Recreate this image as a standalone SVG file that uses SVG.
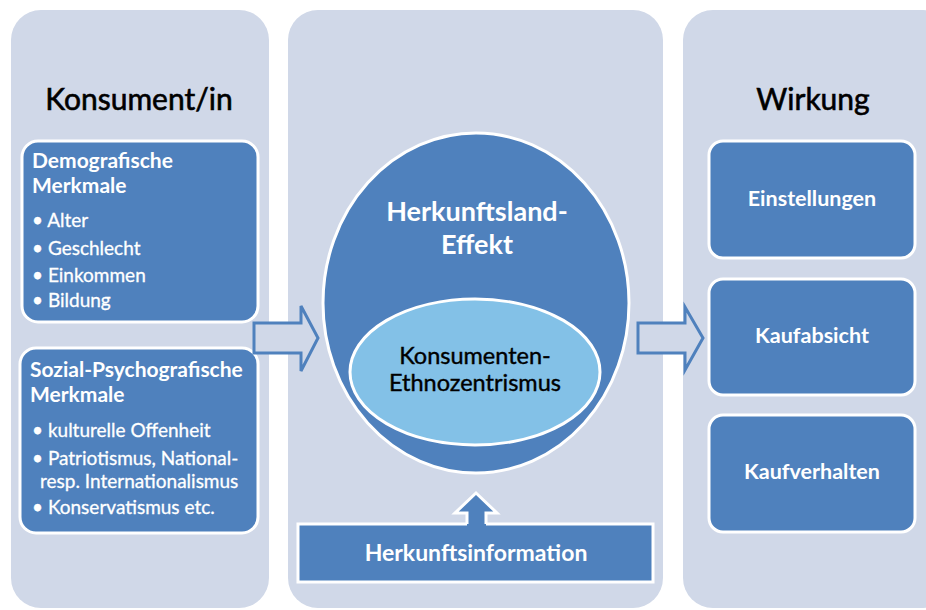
<svg xmlns="http://www.w3.org/2000/svg" width="926" height="610" viewBox="0 0 926 610">
  <style>
    .panel { fill: #D0D8E8; }
    .box { fill: #4F81BD; stroke: #FFFFFF; stroke-width: 3; }
    .title { font-family: Lato, "Open Sans", sans-serif; font-size: 30px; fill: #000000; stroke: #000000; stroke-width: 0.6; text-anchor: middle; }
    .head { font-family: Lato, "Open Sans", sans-serif; font-size: 21px; font-weight: bold; fill: #FFFFFF; }
    .item { font-family: Lato, "Open Sans", sans-serif; font-size: 19px; fill: #FFFFFF; stroke: #FFFFFF; stroke-width: 0.3; }
    .label { font-family: Lato, "Open Sans", sans-serif; font-size: 21.5px; font-weight: bold; fill: #FFFFFF; text-anchor: middle; }
    .big { font-family: Lato, "Open Sans", sans-serif; font-size: 27px; font-weight: bold; fill: #FFFFFF; text-anchor: middle; }
    .inner { font-family: Lato, "Open Sans", sans-serif; font-size: 23.5px; fill: #000000; stroke: #000000; stroke-width: 0.4; text-anchor: middle; }
    .hollow { fill: #D0D8E8; stroke: #4F81BD; stroke-width: 3; stroke-linejoin: miter; }
    .arrow-fill { fill: #4F81BD; }
    .arrow-edge { fill: none; stroke: #FFFFFF; stroke-width: 3; stroke-linejoin: miter; }
  </style>
  <rect width="926" height="610" fill="#FFFFFF"/>

  <!-- column backgrounds -->
  <g id="panels">
    <rect class="panel" x="11" y="10" width="258" height="598" rx="30"/>
    <rect class="panel" x="288" y="10" width="375" height="598" rx="30"/>
    <rect class="panel" x="683" y="10" width="270" height="598" rx="30"/>
  </g>

  <!-- left column: consumer -->
  <g id="konsument-title">
    <text class="title" x="139" y="110">Konsument/in</text>
  </g>
  <g id="demografisch">
    <rect class="box" x="22" y="141" width="236" height="181" rx="16"/>
    <text class="head" x="32" y="168">Demografische</text>
    <text class="head" x="32" y="193">Merkmale</text>
    <text class="item" x="32" y="227">• Alter</text>
    <text class="item" x="32" y="255">• Geschlecht</text>
    <text class="item" x="32" y="282">• Einkommen</text>
    <text class="item" x="32" y="307">• Bildung</text>
  </g>
  <g id="sozialpsychografisch">
    <rect class="box" x="20" y="348" width="238" height="185" rx="16"/>
    <text class="head" x="30" y="377">Sozial-Psychografische</text>
    <text class="head" x="30" y="402">Merkmale</text>
    <text class="item" x="32" y="437">• kulturelle Offenheit</text>
    <text class="item" x="32" y="465">• Patriotismus, National-</text>
    <text class="item" x="40" y="488">resp. Internationalismus</text>
    <text class="item" x="32" y="514">• Konservatismus etc.</text>
  </g>

  <!-- middle column: country-of-origin effect -->
  <g id="herkunftsland-effekt">
    <ellipse class="box" cx="476" cy="303" rx="153" ry="170"/>
    <text class="big" x="477" y="221">Herkunftsland-</text>
    <text class="big" x="477" y="254">Effekt</text>
  </g>
  <g id="ethnozentrismus">
    <ellipse cx="475" cy="372" rx="125" ry="73" fill="#83C1E7" stroke="#FFFFFF" stroke-width="3"/>
    <text class="inner" x="475" y="364">Konsumenten-</text>
    <text class="inner" x="475" y="391">Ethnozentrismus</text>
  </g>
  <g id="herkunftsinformation">
    <rect class="box" x="298" y="524" width="355" height="58"/>
    <text class="label" x="476" y="561" style="font-size:23px">Herkunftsinformation</text>
  </g>

  <!-- right column: effects -->
  <g id="wirkung-title">
    <text class="title" x="813" y="110">Wirkung</text>
  </g>
  <g id="einstellungen">
    <rect class="box" x="709" y="141" width="206" height="117" rx="14"/>
    <text class="label" x="812" y="206">Einstellungen</text>
  </g>
  <g id="kaufabsicht">
    <rect class="box" x="709" y="279" width="206" height="116" rx="14"/>
    <text class="label" x="812" y="343">Kaufabsicht</text>
  </g>
  <g id="kaufverhalten">
    <rect class="box" x="709" y="415" width="206" height="117" rx="14"/>
    <text class="label" x="812" y="479">Kaufverhalten</text>
  </g>

  <!-- connectors: block arrows -->
  <g id="connectors">
    <polygon class="hollow" points="254,323 301,323 301,306 318,338 301,371 301,353 254,353"/>
    <polygon class="hollow" points="638,323 685,323 685,307 703,338 685,370 685,353 638,353"/>
    <!-- upward arrow joins the information bar without an outline at its base -->
    <polygon class="arrow-fill" points="476,493 497,513 486,513 486,527 467,527 467,513 455,513"/>
    <polyline class="arrow-edge" points="467,524 467,513 455,513 476,493 497,513 486,513 486,524"/>
  </g>
</svg>
